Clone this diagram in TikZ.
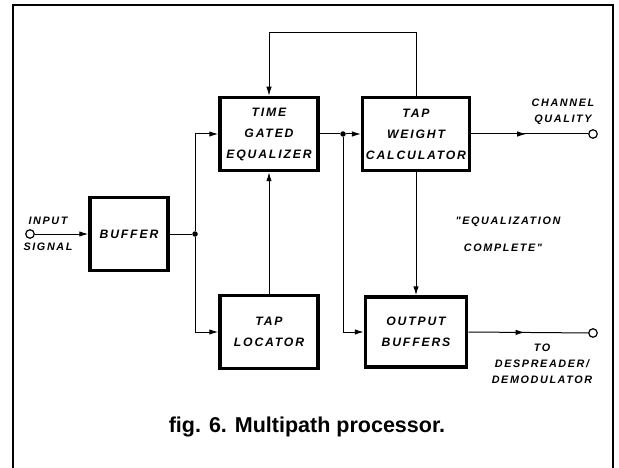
\documentclass[tikz,border=0pt]{standalone}
\usepackage{fontspec}
\setmainfont{Liberation Sans}
\newfontfamily\letterfont[LetterSpace=15]{Liberation Sans}
\usetikzlibrary{arrows.meta,decorations.markings}
\tikzset{%
  >={Latex[width=5.5pt,length=9pt]},
  % Specifications for style of nodes:
     block/.style = {rectangle, draw=black, line width=3.5pt,
                           minimum width=98, minimum height=73,
                           align=center, font=\letterfont\bfseries\itshape\fontsize{12.2}{21}\selectfont},
    smallBlock/.style = {block, minimum width=78},
    terminal/.style = {circle, draw=black, line width=1.2pt, minimum size=8.5pt, inner sep=0pt},
    junction/.style = {circle, fill=black, minimum size=5.5pt, inner sep=0pt},
    note/.style = {align=center, inner sep=0pt, font=\letterfont\bfseries\itshape\fontsize{10.8}{16}\selectfont},
    midArrow/.style = {postaction={decorate},
                           decoration={markings, mark=at position 0.47 with {\arrow{>}}}},
}
\begin{document}
\begin{tikzpicture}[x=1pt, y=-1pt, line width=1pt]
  \useasboundingbox (0,0) rectangle (619,468);
  % frame
  \draw[line width=1.3pt] (13,470) -- (13,5) -- (613,5) -- (613,470);

  % Specification of nodes (position, etc.)
  \node (bufferBlock)    [smallBlock] at (129,234) {BUFFER};
  \node (equalizerBlock) [block] at (269,134) {TIME\\GATED\\EQUALIZER};
  \node (locatorBlock)   [block] at (269,332) {TAP\\LOCATOR};
  \node (weightBlock)    [block, minimum width=101] at (416,134) {TAP\\WEIGHT\\CALCULATOR};
  \node (outputBlock)    [block, minimum width=101, minimum height=70] at (416,332) {OUTPUT\\BUFFERS};

  \node (inputPort)   [terminal] at (30,234) {};
  \node (qualityPort) [terminal] at (593,134) {};
  \node (outputPort)  [terminal] at (593,333) {};
  \node (bufferSplit) [junction] at (195,234) {};
  \node (equalSplit)  [junction] at (343,134) {};
  \coordinate (loopTop) at (416,33);

  % labels
  \node (inputLabel)    [note] at (48,221) {INPUT};
  \node (signalLabel)   [note] at (48,247) {SIGNAL};
  \node (channelLabel)  [note] at (563,112) {CHANNEL\\QUALITY};
  \node (despreadLabel) [note] at (542,364) {TO\\DESPREADER/\\DEMODULATOR};
  \node (eqLabel)       [note] at (508,222) {"EQUALIZATION};
  \node (completeLabel) [note] at (503,248) {COMPLETE"};
  \node (caption) [font=\bfseries\fontsize{21.5}{24}\selectfont] at (307,427) {fig. 6. Multipath processor.};

  % Specification of lines between nodes specified above
  \draw[->]        (inputPort) -- (bufferBlock.west);
  \draw            (bufferBlock.east) -- (bufferSplit);
  \draw[->]        (bufferSplit) |- (equalizerBlock.west);
  \draw[->]        (bufferSplit) |- (locatorBlock.west);
  \draw[->]        (locatorBlock.north) -- (equalizerBlock.south);
  \draw            (equalizerBlock.east) -- (equalSplit);
  \draw[->]        (equalSplit) -- (weightBlock.west);
  \draw[->]        (equalSplit) |- (outputBlock.west);
  \draw[->]        (weightBlock.north) -- (loopTop) -| (equalizerBlock.north);
  \draw[->]        (weightBlock.south) -- (outputBlock.north);
  \draw[midArrow]  (weightBlock.east) -- (qualityPort);
  \draw[midArrow]  (outputBlock.east) -- (outputPort);
\end{tikzpicture}
\end{document}
